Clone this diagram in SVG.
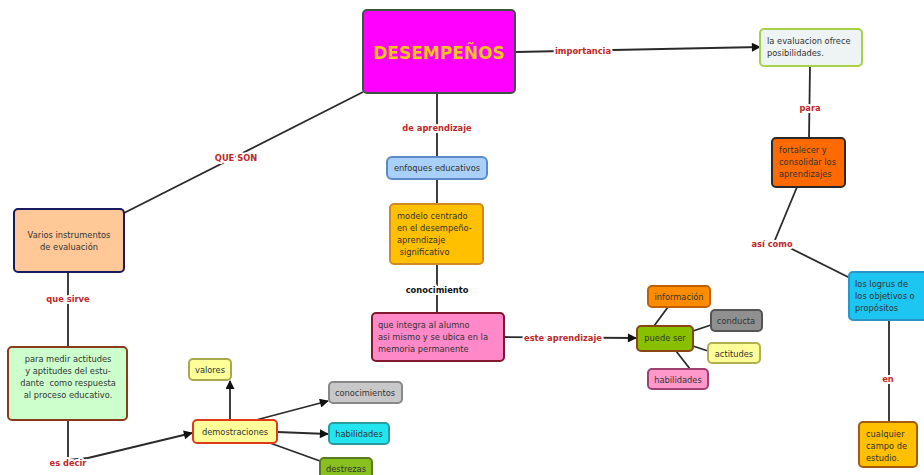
<svg xmlns="http://www.w3.org/2000/svg" width="924" height="475" viewBox="0 0 924 475">
<style>
.n rect{stroke-width:2}
.t{font-family:"DejaVu Sans",Verdana,sans-serif;font-size:8.3px;fill:#333}
.c{text-anchor:middle}
.lbl{font-family:"DejaVu Sans",Verdana,sans-serif;font-size:8.3px;font-weight:bold;fill:#c0282a;text-anchor:middle;paint-order:stroke;stroke:#fff;stroke-width:4px;stroke-linejoin:round}
.e line,.e polyline{stroke:#2a2a2a;stroke-width:1.8;fill:none}
.a{marker-end:url(#ar)}
</style>
<defs>
<marker id="ar" viewBox="0 0 10 10" refX="9" refY="5" markerWidth="10" markerHeight="9" markerUnits="userSpaceOnUse" orient="auto"><path d="M0,0L10,5L0,10z" fill="#111"/></marker>
</defs>
<rect width="924" height="475" fill="#fff"/>
<g id="connectors" class="e">
<line class="a" x1="515" y1="52" x2="760" y2="47"/>
<line x1="810" y1="66" x2="809" y2="138"/>
<polyline points="797,187 775,240"/>
<polyline points="790,248 850,278"/>
<line x1="889" y1="320" x2="889" y2="422"/>
<line x1="363" y1="92" x2="124" y2="213"/>
<line x1="68" y1="272" x2="68" y2="347"/>
<polyline points="68,420 68,460 88,458"/>
<line class="a" x1="88" y1="458" x2="192" y2="433"/>
<line class="a" x1="230" y1="420" x2="230" y2="381"/>
<line class="a" x1="256" y1="420" x2="328" y2="401"/>
<line class="a" x1="277" y1="432" x2="328" y2="434"/>
<line x1="270" y1="443" x2="320" y2="461"/>
<line x1="437" y1="93" x2="437" y2="157"/>
<line x1="437" y1="179" x2="437" y2="204"/>
<line x1="437" y1="264" x2="437" y2="313"/>
<line class="a" x1="504" y1="337" x2="636" y2="338"/>
<line x1="654" y1="326" x2="668" y2="307"/>
<line x1="693" y1="331" x2="711" y2="325"/>
<line x1="693" y1="346" x2="708" y2="351"/>
<line x1="676" y1="351" x2="690" y2="369"/>
<text class="lbl" x="583" y="54">importancia</text>
<text class="lbl" x="810" y="111">para</text>
<text class="lbl" x="772" y="247">así como</text>
<text class="lbl" x="888" y="382">en</text>
<text class="lbl" x="236" y="161">QUE SON</text>
<text class="lbl" x="68" y="302">que sirve</text>
<text class="lbl" x="68" y="466">es decir</text>
<text class="lbl" x="437" y="131">de aprendizaje</text>
<text class="lbl" x="437" y="293" style="fill:#111">conocimiento</text>
<text class="lbl" x="563" y="341">este aprendizaje</text>
</g>
<g id="desempenos" class="n"><rect x="363" y="10" width="152" height="83" rx="4" fill="#ff00ff" stroke="#3d5540"/><text x="439" y="59" text-anchor="middle" style="font-family:'DejaVu Sans',Verdana,sans-serif;font-size:17px;font-weight:bold;fill:#f5c518">DESEMPEÑOS</text></g>
<g id="evaluacion" class="n"><rect x="760" y="29" width="102" height="37" rx="4" fill="#eef3f3" stroke="#a8d048"/><text class="t" x="767" y="44">la evaluacion ofrece</text><text class="t" x="767" y="56">posibilidades.</text></g>
<g id="fortalecer" class="n"><rect x="772" y="138" width="73" height="49" rx="4" fill="#ff6a00" stroke="#2a2a2a"/><text class="t" x="779" y="153">fortalecer y</text><text class="t" x="779" y="165">consolidar los</text><text class="t" x="779" y="177">aprendizajes</text></g>
<g id="logros" class="n"><rect x="849" y="272" width="82" height="48" rx="4" fill="#1cc6f0" stroke="#2a96c8"/><text class="t" x="855" y="287">los logrus de</text><text class="t" x="855" y="299">los objetivos o</text><text class="t" x="855" y="311">propósitos</text></g>
<g id="cualquier" class="n"><rect x="859" y="422" width="58" height="45" rx="4" fill="#ffc000" stroke="#a45a10"/><text class="t" x="866" y="437">cualquier</text><text class="t" x="866" y="449">campo de</text><text class="t" x="866" y="461">estudio.</text></g>
<g id="varios" class="n"><rect x="14" y="209" width="110" height="63" rx="4" fill="#ffc896" stroke="#1a1a60"/><text class="t c" x="69" y="238">Varios instrumentos</text><text class="t c" x="69" y="250">de evaluación</text></g>
<g id="medir" class="n"><rect x="8" y="347" width="119" height="73" rx="4" fill="#ccffcc" stroke="#8b3a1a"/><text class="t c" x="68" y="362">para medir actitudes</text><text class="t c" x="68" y="374">y aptitudes del estu-</text><text class="t c" x="68" y="386">dante&#160; como respuesta</text><text class="t c" x="68" y="398">al proceso educativo.</text></g>
<g id="demostraciones" class="n"><rect x="193" y="420" width="84" height="23" rx="4" fill="#ffff99" stroke="#e03a1a"/><text class="t c" x="235" y="435">demostraciones</text></g>
<g id="valores" class="n"><rect x="189" y="359" width="42" height="21" rx="4" fill="#ffff99" stroke="#a8a850"/><text class="t c" x="210" y="373">valores</text></g>
<g id="conocimientos" class="n"><rect x="329" y="382" width="73" height="21" rx="4" fill="#c8c8c8" stroke="#888"/><text class="t c" x="365" y="396">conocimientos</text></g>
<g id="habilidades1" class="n"><rect x="329" y="423" width="60" height="21" rx="4" fill="#22e5f0" stroke="#2a9ba0"/><text class="t c" x="359" y="437">habilidades</text></g>
<g id="destrezas" class="n"><rect x="320" y="458" width="52" height="24" rx="4" fill="#88c020" stroke="#5a7a20"/><text class="t c" x="346" y="472">destrezas</text></g>
<g id="enfoques" class="n"><rect x="387" y="157" width="100" height="22" rx="5" fill="#a8d0f8" stroke="#5a8ac8"/><text class="t c" x="437" y="171">enfoques educativos</text></g>
<g id="modelo" class="n"><rect x="390" y="204" width="93" height="60" rx="4" fill="#ffc000" stroke="#d08a20"/><text class="t" x="397" y="219">modelo centrado</text><text class="t" x="397" y="231">en el desempeño-</text><text class="t" x="397" y="243">aprendizaje</text><text class="t" x="397" y="255">&#160;significativo</text></g>
<g id="integra" class="n"><rect x="372" y="313" width="132" height="48" rx="4" fill="#ff88c8" stroke="#801830"/><text class="t" x="378" y="328">que integra al alumno</text><text class="t" x="378" y="340">asi mismo y se ubica en la</text><text class="t" x="378" y="352">memoria permanente</text></g>
<g id="puedeser" class="n"><rect x="637" y="326" width="56" height="25" rx="4" fill="#88c000" stroke="#8b4513"/><text class="t c" x="665" y="341">puede ser</text></g>
<g id="informacion" class="n"><rect x="648" y="286" width="62" height="21" rx="4" fill="#ff8c00" stroke="#c06000"/><text class="t c" x="679" y="300">información</text></g>
<g id="conducta" class="n"><rect x="711" y="310" width="51" height="21" rx="4" fill="#909090" stroke="#555"/><text class="t c" x="736" y="324">conducta</text></g>
<g id="actitudes" class="n"><rect x="708" y="343" width="52" height="20" rx="4" fill="#ffff99" stroke="#b0b050"/><text class="t c" x="734" y="357">actitudes</text></g>
<g id="habilidades2" class="n"><rect x="648" y="369" width="60" height="20" rx="4" fill="#ff99cc" stroke="#a04070"/><text class="t c" x="678" y="383">habilidades</text></g>
</svg>
